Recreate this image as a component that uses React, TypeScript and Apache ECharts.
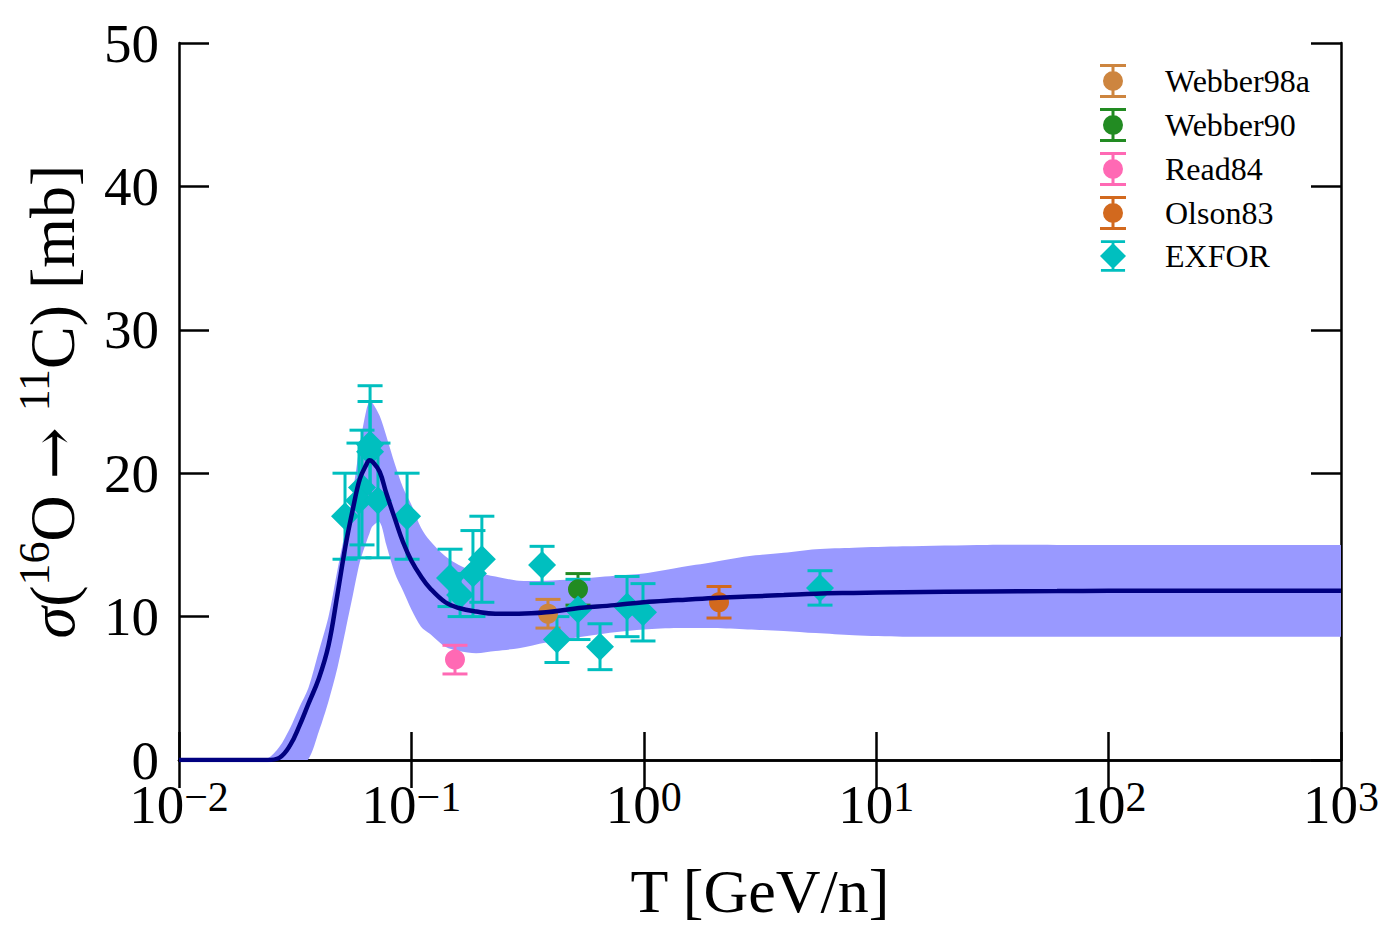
import React, { useEffect, useRef } from "react";
import * as echarts from "echarts";

const FONT = "Liberation Serif";

// Model curve and uncertainty band (T in GeV/n, sigma in mb)
const gridT = [0.01, 0.014, 0.02, 0.024, 0.027, 0.03, 0.033, 0.036, 0.04, 0.044, 0.048, 0.052, 0.056, 0.06, 0.064, 0.066, 0.068, 0.073, 0.078, 0.085, 0.092, 0.1, 0.11, 0.12, 0.14, 0.16, 0.19, 0.23, 0.29, 0.38, 0.5, 0.75, 1.0, 1.4, 2.0, 2.8, 4.0, 5.5, 8, 13, 30, 60, 100, 200, 400, 700, 1000];
const curveY = [0, 0, 0, 0, 0.15, 1.0, 2.4, 3.9, 5.7, 8.0, 11.5, 14.9, 17.5, 19.6, 20.6, 20.9, 20.8, 20.1, 18.6, 16.8, 15.2, 13.9, 12.8, 12.0, 11.0, 10.6, 10.35, 10.2, 10.2, 10.3, 10.55, 10.8, 11.0, 11.15, 11.3, 11.4, 11.5, 11.6, 11.65, 11.7, 11.75, 11.78, 11.8, 11.8, 11.8, 11.8, 11.8];
const bandUpper = [0, 0, 0, 0.1, 0.9, 2.2, 3.7, 5.0, 7.6, 10.0, 13.2, 16.0, 18.7, 22.0, 24.4, 25.0, 24.9, 24.0, 22.6, 20.6, 19.0, 17.8, 16.2, 15.3, 14.2, 13.6, 13.1, 12.8, 12.5, 12.5, 12.6, 12.85, 13.0, 13.4, 13.8, 14.2, 14.45, 14.7, 14.8, 14.9, 15.0, 15.0, 15.0, 15.0, 15.0, 15.0, 15.0];
const bandLower = [0, 0, 0, 0, 0, 0, 0, 0.05, 2.0, 4.1, 6.4, 9.0, 11.5, 13.8, 15.2, 15.8, 16.3, 16.6, 15.0, 13.0, 11.8, 10.5, 9.3, 8.8, 7.9, 7.6, 7.45, 7.6, 7.8, 8.2, 8.5, 8.9, 9.1, 9.2, 9.2, 9.1, 9.0, 8.85, 8.7, 8.6, 8.6, 8.6, 8.6, 8.6, 8.6, 8.6, 8.6];

// Measurements: energy, cross-section, error
const webber98aT = [0.387];
const webber98aY = [10.2];
const webber98aE = [1.0];

const webber90T = [0.521];
const webber90Y = [11.9];
const webber90E = [1.1];

const read84T = [0.154];
const read84Y = [7.0];
const read84E = [1.0];

const olson83T = [2.107];
const olson83Y = [11.0];
const olson83E = [1.1];

const exforT = [0.0518, 0.0613, 0.0664, 0.0664, 0.0595, 0.0718, 0.0958, 0.1466, 0.162, 0.184, 0.201, 0.365, 0.423, 0.521, 0.648, 0.847, 0.992, 5.73];
const exforY = [17.0, 19.0, 22.0, 21.5, 18.1, 18.1, 17.0, 12.7, 11.5, 13.0, 14.0, 13.6, 8.4, 10.5, 7.9, 10.7, 10.3, 12.0];
const exforE = [3.0, 4.0, 4.1, 3.5, 4.0, 4.0, 3.0, 2.0, 1.5, 3.0, 3.0, 1.3, 1.6, 2.1, 1.6, 2.1, 2.0, 1.2];

const yTicks = [0, 10, 20, 30, 40, 50];

const COLORS = {
  Webber98a: "#CD853F",
  Webber90: "#228B22",
  Read84: "#FF69B4",
  Olson83: "#D2691E",
  EXFOR: "#00BFBF",
};

const circleIcon =
  "path://M0,0H26V3H0ZM11.5,0H14.5V34H11.5ZM0,31H26V34H0ZM13,7A10,10,0,1,1,13,27A10,10,0,1,1,13,7Z";
const diamondIcon =
  "path://M0,0H26V3H0ZM11.5,0H14.5V34H11.5ZM0,31H26V34H0ZM13,3L27,17L13,31L-1,17Z";

function zip3(t: number[], y: number[], e: number[]) {
  return t.map((v, i) => [v, y[i], e[i]]);
}

function errorSeries(data: number[][], color: string) {
  return {
    type: "custom",
    z: 3,
    silent: true,
    data,
    encode: { x: 0, y: 1 },
    renderItem: (params: any, api: any) => {
      const x = api.value(0);
      const y = api.value(1);
      const e = api.value(2);
      const top = api.coord([x, y + e]);
      const bot = api.coord([x, y - e]);
      const hw = 12.5;
      const st = { stroke: color, lineWidth: 3 };
      return {
        type: "group",
        children: [
          { type: "line", shape: { x1: top[0], y1: top[1], x2: bot[0], y2: bot[1] }, style: st },
          { type: "line", shape: { x1: top[0] - hw, y1: top[1], x2: top[0] + hw, y2: top[1] }, style: st },
          { type: "line", shape: { x1: bot[0] - hw, y1: bot[1], x2: bot[0] + hw, y2: bot[1] }, style: st },
        ],
      };
    },
  };
}

function pointSeries(name: string, data: number[][], symbol: string, size: number) {
  return {
    type: "scatter",
    name,
    z: 4,
    symbol,
    symbolSize: size,
    itemStyle: { color: (COLORS as any)[name], opacity: 1 },
    data: data.map((d) => [d[0], d[1]]),
  };
}

function supLabel(v: number) {
  const e = Math.round(Math.log10(v));
  const s = e < 0 ? "\u2212" + String(-e) : String(e);
  return `{b|10}{s|${s}}`;
}

export default function App() {
  const ref = useRef<HTMLDivElement>(null);
  useEffect(() => {
    if (!ref.current) return;
    const chart = echarts.init(ref.current, undefined, { renderer: "svg" });
    const bandData = gridT.map((t, i) => [t, bandLower[i], bandUpper[i]]);
    const w98 = zip3(webber98aT, webber98aY, webber98aE);
    const w90 = zip3(webber90T, webber90Y, webber90E);
    const r84 = zip3(read84T, read84Y, read84E);
    const o83 = zip3(olson83T, olson83Y, olson83E);
    const exf = zip3(exforT, exforY, exforE);

    const xCommon = {
      type: "log",
      logBase: 10,
      min: 0.01,
      max: 1000,
      splitNumber: 5,
      axisLine: { show: true, lineStyle: { color: "#000", width: 2.5 } },
      axisTick: { show: true, inside: true, length: 28, lineStyle: { color: "#000", width: 2.5 } },
      minorTick: { show: false },
      splitLine: { show: false },
    };
    const yCommon = {
      type: "value",
      min: 0,
      max: 50,
      interval: 10,
      axisLine: { show: true, onZero: false, lineStyle: { color: "#000", width: 2.5 } },
      axisTick: { show: true, inside: true, length: 30, lineStyle: { color: "#000", width: 2.5 } },
      splitLine: { show: false },
    };

    chart.setOption({
      animation: false,
      backgroundColor: "#fff",
      grid: { left: 179, right: 54, top: 43, bottom: 185, containLabel: false },
      xAxis: [
        {
          ...xCommon,
          position: "bottom",
          name: "T [GeV/n]",
          nameLocation: "middle",
          nameGap: 100,
          nameTextStyle: { fontFamily: FONT, fontSize: 62, color: "#000" },
          axisLabel: {
            show: true,
            margin: 16,
            formatter: supLabel,
            rich: {
              b: { fontFamily: FONT, fontSize: 55, color: "#000", lineHeight: 56, verticalAlign: "bottom" },
              s: { fontFamily: FONT, fontSize: 42, color: "#000", lineHeight: 40, verticalAlign: "top" },
            },
          },
        },
        { ...xCommon, position: "top", axisLabel: { show: false } },
      ],
      yAxis: [
        {
          ...yCommon,
          position: "left",
          name: "{i|\u03c3}{n|(}{s|16}{n|O }{a|\u2192}{n| }{s|11}{n|C) [mb]}",
          nameLocation: "middle",
          nameGap: 95,
          nameTextStyle: {
            color: "#000",
            rich: {
              i: { fontFamily: FONT, fontSize: 64, fontStyle: "italic", color: "#000", lineHeight: 72, verticalAlign: "bottom" },
              n: { fontFamily: FONT, fontSize: 64, color: "#000", lineHeight: 72, verticalAlign: "bottom" },
              a: { fontFamily: "DejaVu Serif", fontSize: 62, color: "#000", lineHeight: 72, verticalAlign: "bottom" },
              s: { fontFamily: FONT, fontSize: 44, color: "#000", lineHeight: 44, verticalAlign: "top" },
            },
          },
          axisLabel: {
            show: true,
            margin: 20,
            fontFamily: FONT,
            fontSize: 55,
            lineHeight: 30,
            color: "#000",
            formatter: (v: number) => (yTicks.includes(v) ? String(v) : ""),
          },
        },
        { ...yCommon, position: "right", axisLabel: { show: false } },
      ],
      legend: {
        orient: "vertical",
        left: 1095,
        top: 59,
        itemWidth: 26,
        itemHeight: 34,
        itemGap: 10,
        selectedMode: false,
        textStyle: { fontFamily: FONT, fontSize: 32, color: "#000", padding: [0, 0, 0, 34] },
        data: [
          { name: "Webber98a", icon: circleIcon },
          { name: "Webber90", icon: circleIcon },
          { name: "Read84", icon: circleIcon },
          { name: "Olson83", icon: circleIcon },
          { name: "EXFOR", icon: diamondIcon },
        ],
      },
      series: [
        {
          type: "custom",
          z: 1,
          silent: true,
          clip: true,
          data: bandData,
          encode: { x: 0, y: 1 },
          renderItem: (params: any, api: any) => {
            if (params.dataIndex !== 0) return null;
            const up = bandData.map((d) => api.coord([d[0], d[2]]));
            const lo = bandData.map((d) => api.coord([d[0], d[1]])).reverse();
            // repeat the corner vertices so the smoothing keeps square ends
            const pts = [up[0]]
              .concat(up)
              .concat([up[up.length - 1]])
              .concat([lo[0]])
              .concat(lo)
              .concat([lo[lo.length - 1]]);
            return {
              type: "polygon",
              shape: { points: pts, smooth: 0.3 },
              style: { fill: "#9999FF", stroke: "none" },
            };
          },
        },
        errorSeries(w98, COLORS.Webber98a),
        errorSeries(w90, COLORS.Webber90),
        errorSeries(r84, COLORS.Read84),
        errorSeries(o83, COLORS.Olson83),
        errorSeries(exf, COLORS.EXFOR),
        pointSeries("Webber98a", w98, "circle", 20),
        pointSeries("Webber90", w90, "circle", 20),
        pointSeries("Read84", r84, "circle", 20),
        pointSeries("Olson83", o83, "circle", 20),
        pointSeries("EXFOR", exf, "diamond", 28),
        {
          type: "line",
          name: "model",
          z: 6,
          silent: true,
          showSymbol: false,
          symbol: "none",
          smooth: 0.4,
          data: gridT.map((t, i) => [t, curveY[i]]),
          lineStyle: { color: "#000080", width: 4.5 },
        },
      ],
    });
    return () => chart.dispose();
  }, []);
  return (
    <div
      ref={ref}
      style={{ position: "fixed", left: 0, top: 0, width: 1395, height: 945, background: "#fff" }}
    />
  );
}
